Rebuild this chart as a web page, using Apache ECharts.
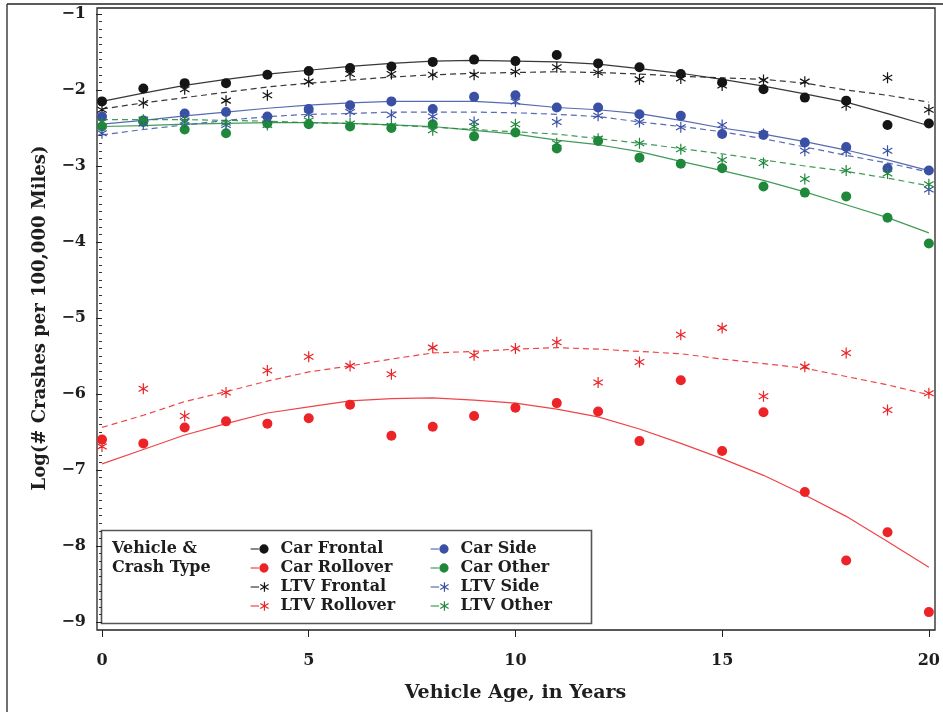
<!DOCTYPE html>
<html>
<head>
<meta charset="utf-8">
<script src="https://cdn.jsdelivr.net/npm/echarts@6/dist/echarts.min.js"></script>
<style>html,body{margin:0;padding:0;background:#fff}#c{width:943px;height:712px}</style>
</head>
<body>
<div id="c"></div>
<script>
// ---- data ----
const ages = [0,1,2,3,4,5,6,7,8,9,10,11,12,13,14,15,16,17,18,19,20];

const carFrontal     = [-2.15,-1.98,-1.91,-1.91,-1.80,-1.75,-1.71,-1.69,-1.63,-1.60,-1.62,-1.54,-1.65,-1.70,-1.79,-1.90,-1.99,-2.10,-2.14,-2.46,-2.44];
const carFrontalFit  = [-2.15,-2.04,-1.94,-1.86,-1.79,-1.74,-1.69,-1.65,-1.62,-1.61,-1.62,-1.63,-1.66,-1.72,-1.78,-1.86,-1.95,-2.05,-2.16,-2.31,-2.47];
const ltvFrontal     = [-2.26,-2.17,-1.99,-2.14,-2.07,-1.89,-1.79,-1.79,-1.80,-1.80,-1.76,-1.70,-1.77,-1.86,-1.85,-1.94,-1.87,-1.89,-2.20,-1.84,-2.26];
const ltvFrontalFit  = [-2.25,-2.17,-2.10,-2.03,-1.96,-1.91,-1.87,-1.83,-1.80,-1.78,-1.77,-1.76,-1.77,-1.79,-1.82,-1.84,-1.86,-1.91,-2.00,-2.07,-2.16];

const carSide        = [-2.35,-2.40,-2.31,-2.29,-2.35,-2.25,-2.20,-2.15,-2.25,-2.09,-2.07,-2.23,-2.23,-2.32,-2.34,-2.58,-2.59,-2.69,-2.75,-3.03,-3.06];
const carSideFit     = [-2.45,-2.40,-2.34,-2.29,-2.24,-2.20,-2.17,-2.15,-2.15,-2.15,-2.18,-2.23,-2.26,-2.31,-2.40,-2.50,-2.58,-2.68,-2.79,-2.92,-3.06];
const ltvSide        = [-2.57,-2.44,-2.42,-2.46,-2.39,-2.32,-2.29,-2.33,-2.35,-2.42,-2.15,-2.42,-2.34,-2.42,-2.49,-2.46,-2.58,-2.80,-2.81,-2.80,-3.31];
const ltvSideFit     = [-2.59,-2.52,-2.46,-2.40,-2.35,-2.32,-2.31,-2.29,-2.29,-2.29,-2.30,-2.32,-2.35,-2.42,-2.48,-2.55,-2.64,-2.75,-2.86,-2.96,-3.08];

const carOther       = [-2.48,-2.42,-2.52,-2.57,-2.44,-2.45,-2.48,-2.50,-2.45,-2.61,-2.56,-2.77,-2.67,-2.89,-2.97,-3.03,-3.27,-3.35,-3.40,-3.68,-4.02];
const carOtherFit    = [-2.48,-2.47,-2.45,-2.44,-2.43,-2.43,-2.44,-2.46,-2.48,-2.53,-2.58,-2.66,-2.72,-2.81,-2.94,-3.06,-3.19,-3.34,-3.51,-3.68,-3.88];
const ltvOther       = [-2.42,-2.39,-2.40,-2.43,-2.46,-2.40,-2.44,-2.47,-2.53,-2.48,-2.45,-2.70,-2.64,-2.70,-2.78,-2.92,-2.96,-3.17,-3.06,-3.10,-3.24];
const ltvOtherFit    = [-2.39,-2.39,-2.39,-2.40,-2.41,-2.43,-2.44,-2.46,-2.49,-2.52,-2.55,-2.58,-2.64,-2.70,-2.77,-2.84,-2.92,-3.00,-3.07,-3.16,-3.26];

const carRollover    = [-6.60,-6.65,-6.44,-6.36,-6.39,-6.32,-6.14,-6.55,-6.43,-6.29,-6.18,-6.12,-6.23,-6.62,-5.82,-6.75,-6.24,-7.29,-8.19,-7.82,-8.87];
const carRolloverFit = [-6.92,-6.73,-6.54,-6.39,-6.25,-6.17,-6.09,-6.06,-6.05,-6.08,-6.12,-6.20,-6.30,-6.46,-6.65,-6.85,-7.07,-7.33,-7.61,-7.94,-8.28];
const ltvRollover    = [-6.69,-5.93,-6.29,-5.98,-5.69,-5.51,-5.63,-5.74,-5.39,-5.49,-5.40,-5.32,-5.85,-5.58,-5.22,-5.13,-6.03,-5.64,-5.46,-6.21,-5.99];
const ltvRolloverFit = [-6.44,-6.28,-6.10,-5.97,-5.83,-5.71,-5.63,-5.54,-5.46,-5.44,-5.41,-5.39,-5.41,-5.44,-5.47,-5.54,-5.60,-5.66,-5.77,-5.88,-6.01];

const xTicks = [0,5,10,15,20];
const yTicks = [-9,-8,-7,-6,-5,-4,-3,-2,-1];
const legendCol1 = ['Car Frontal','Car Rollover','LTV Frontal','LTV Rollover'];
const legendCol2 = ['Car Side','Car Other','LTV Side','LTV Other'];
const legendTitle = 'Vehicle &\nCrash Type';
const xTitle = 'Vehicle Age, in Years';
const yTitle = 'Log(# Crashes per 100,000 Miles)';

// ---- styling ----
const FONT = 'DejaVu Serif';
const TXT = '#1e1e1e';
const BLACK = '#151515', RED = '#ec2327', BLUE = '#3a50a5', GREEN = '#20883b';
const STAR = 'path://M0,-5 L0,5 M-4.33,-2.5 L4.33,2.5 M-4.33,2.5 L4.33,-2.5';
const DOT_ICON = 'path://M0,4.4 L8,4.4 L8,5.6 L0,5.6 Z M8.5,5 A4.5,4.5 0 1 1 17.5,5 A4.5,4.5 0 1 1 8.5,5 Z';
const STAR_ICON = 'path://M0,5 L8,5 M13,0.5 L13,9.5 M9.1,2.75 L16.9,7.25 M9.1,7.25 L16.9,2.75';

const groups = [
  {name:'Car Frontal',  pts:carFrontal,  fit:carFrontalFit,  color:BLACK, star:false},
  {name:'Car Rollover', pts:carRollover, fit:carRolloverFit, color:RED,   star:false},
  {name:'LTV Frontal',  pts:ltvFrontal,  fit:ltvFrontalFit,  color:BLACK, star:true},
  {name:'LTV Rollover', pts:ltvRollover, fit:ltvRolloverFit, color:RED,   star:true},
  {name:'Car Side',     pts:carSide,     fit:carSideFit,     color:BLUE,  star:false},
  {name:'Car Other',    pts:carOther,    fit:carOtherFit,    color:GREEN, star:false},
  {name:'LTV Side',     pts:ltvSide,     fit:ltvSideFit,     color:BLUE,  star:true},
  {name:'LTV Other',    pts:ltvOther,    fit:ltvOtherFit,    color:GREEN, star:true}
];

const series = [];
groups.forEach(g => {
  series.push({
    name: g.name + ' fit', type: 'line', z: 2,
    data: ages.map((a,i) => [a, g.fit[i]]),
    showSymbol: false, symbol: 'none', silent: true,
    lineStyle: {color: g.color, width: 1.2, type: g.star ? [6,4] : 'solid', opacity: 0.85}
  });
});
groups.forEach(g => {
  series.push({
    name: g.name, type: 'scatter', z: 3,
    data: ages.map((a,i) => [a, g.pts[i]]),
    symbol: g.star ? STAR : 'circle',
    symbolKeepAspect: true,
    symbolSize: g.star ? 11 : 10,
    itemStyle: g.star
      ? {color: 'rgba(0,0,0,0)', borderColor: g.color, borderWidth: 1.2, opacity: 1}
      : {color: g.color, opacity: 1}
  });
});

function legendData(names) {
  return names.map(n => {
    const g = groups.find(x => x.name === n);
    return g.star
      ? {name: n, icon: STAR_ICON, itemStyle: {color: 'rgba(0,0,0,0)', borderColor: g.color, borderWidth: 1.2}}
      : {name: n, icon: DOT_ICON, itemStyle: {color: g.color, borderWidth: 0}};
  });
}
const legendText = {fontFamily: FONT, fontSize: 16, fontWeight: 'bold', color: TXT, lineHeight: 19, padding: [0,0,0,7]};

const option = {
  animation: false,
  backgroundColor: '#fff',
  grid: {left: 102, right: 12, top: 14, bottom: 90},
  title: {
    text: legendTitle, left: 112, top: 539.5, padding: 0,
    textStyle: {fontFamily: FONT, fontSize: 16, fontWeight: 'bold', color: TXT, lineHeight: 19}
  },
  legend: [
    {orient: 'vertical', left: 250, top: 539.5, padding: 0, itemGap: 0, itemWidth: 18, itemHeight: 10,
     selectedMode: false, textStyle: legendText, data: legendData(legendCol1)},
    {orient: 'vertical', left: 430, top: 539.5, padding: 0, itemGap: 0, itemWidth: 18, itemHeight: 10,
     selectedMode: false, textStyle: legendText, data: legendData(legendCol2)}
  ],
  xAxis: {
    type: 'value', min: xTicks[0], max: xTicks[xTicks.length-1], interval: 5, offset: 8,
    axisLine: {show: false},
    axisTick: {show: true, length: 7, lineStyle: {color: '#222', width: 1}},
    splitLine: {show: false},
    axisLabel: {fontFamily: FONT, fontSize: 16, fontWeight: 'bold', color: TXT, margin: 23},
    name: xTitle, nameLocation: 'middle', nameGap: 54,
    nameTextStyle: {fontFamily: FONT, fontSize: 19, fontWeight: 'bold', color: TXT}
  },
  yAxis: {
    type: 'value', min: yTicks[0], max: yTicks[yTicks.length-1], interval: 1, offset: 5,
    axisLine: {show: false},
    axisTick: {show: true, length: 6, lineStyle: {color: '#222', width: 1}},
    minorTick: {show: true, splitNumber: 10, length: 3, lineStyle: {color: '#333', width: 1}},
    splitLine: {show: false},
    axisLabel: {fontFamily: FONT, fontSize: 16, fontWeight: 'bold', color: TXT, margin: 11,
      formatter: v => (v < 0 ? '\u2212' : '') + Math.abs(v)},
    name: yTitle, nameLocation: 'middle', nameGap: 48, nameRotate: 90,
    nameTextStyle: {fontFamily: FONT, fontSize: 18, fontWeight: 'bold', color: TXT}
  },
  graphic: [
    {type: 'rect', shape: {x: 97, y: 8, width: 838, height: 622}, silent: true, z: 0,
     style: {fill: 'none', stroke: '#222', lineWidth: 1.3}},
    {type: 'rect', shape: {x: 101.5, y: 530.5, width: 490, height: 93}, silent: true, z: 0,
     style: {fill: 'none', stroke: '#555', lineWidth: 1.6}},
    {type: 'line', shape: {x1: 7, y1: 4, x2: 7, y2: 712}, silent: true,
     style: {stroke: '#222', lineWidth: 1.3}},
    {type: 'line', shape: {x1: 7, y1: 4, x2: 943, y2: 4}, silent: true,
     style: {stroke: '#222', lineWidth: 1.3}}
  ],
  series: series
};

const chart = echarts.init(document.getElementById('c'), null, {renderer: 'canvas'});
chart.setOption(option);
</script>
</body>
</html>
